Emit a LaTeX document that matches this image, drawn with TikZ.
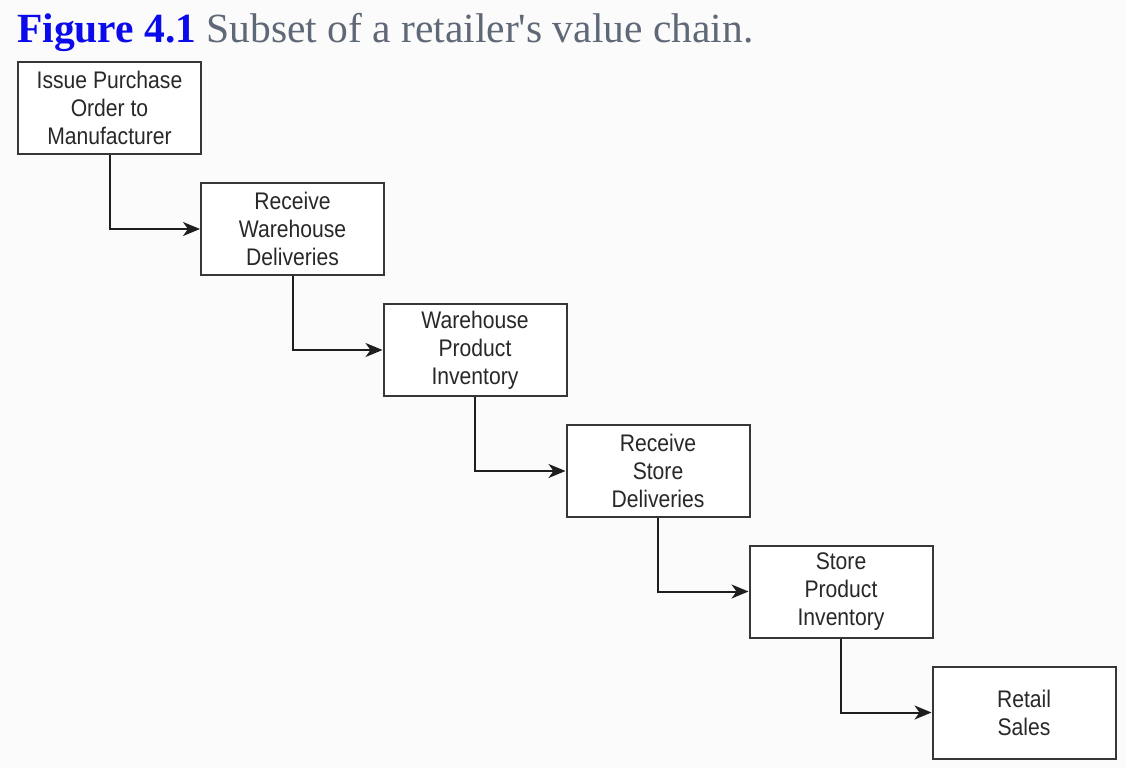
\documentclass[tikz,border=0pt]{standalone}
\usepackage{fontspec}
\setmainfont{Liberation Serif}
\newfontfamily\boxfont[FakeStretch=0.88]{Liberation Sans}
\usetikzlibrary{arrows.meta}
\definecolor{bgcol}{RGB}{251,251,251}
\definecolor{figblue}{RGB}{10,10,235}
\definecolor{capgray}{RGB}{95,104,118}
\definecolor{linecol}{RGB}{55,55,55}
\definecolor{arrcol}{RGB}{30,30,30}
\definecolor{txtcol}{RGB}{40,40,40}
\tikzset{
  stepbox/.style={draw=linecol, line width=2pt, fill=white, minimum width=183pt, minimum height=92pt,
    inner sep=0pt, align=center, text=txtcol, font=\boxfont\fontsize{24}{28}\selectfont, anchor=north west},
  flow/.style={draw=arrcol, line width=2pt, -{Stealth[length=17pt,width=14pt,inset=5pt]}}
}
\begin{document}
\begin{tikzpicture}[x=1pt,y=-1pt]
\fill[bgcol] (0,0) rectangle (1126,768);
\useasboundingbox (0,0) rectangle (1126,768);
\node[anchor=base west, inner sep=0pt, font=\fontsize{41.5}{48}\selectfont] (title) at (17,42)
  {\textcolor{figblue}{\textbf{Figure 4.1}} \textcolor{capgray}{Subset of a retailer\textquotesingle s value chain.}};
\node[stepbox] (b1) at (17,61) {Issue Purchase\\Order to\\Manufacturer};
\node[stepbox] (b2) at (200,182) {Receive\\Warehouse\\Deliveries};
\node[stepbox] (b3) at (382.5,303) {Warehouse\\Product\\Inventory};
\node[stepbox] (b4) at (565.5,424) {Receive\\Store\\Deliveries};
\node[stepbox] (b5) at (748.5,544.5) {Store\\Product\\Inventory};
\node[stepbox] (b6) at (931.5,665.5) {Retail\\Sales};
\draw[flow] (b1.south) |- (b2.west);
\draw[flow] (b2.south) |- (b3.west);
\draw[flow] (b3.south) |- (b4.west);
\draw[flow] (b4.south) |- (b5.west);
\draw[flow] (b5.south) |- (b6.west);
\end{tikzpicture}
\end{document}
